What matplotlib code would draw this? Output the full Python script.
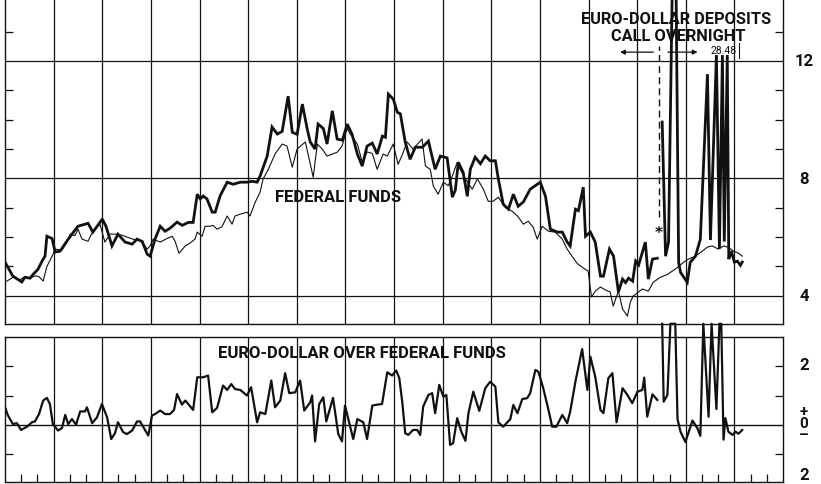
import matplotlib
matplotlib.use("Agg")
import matplotlib.pyplot as plt
import numpy as np

# x values are weeks from the start of the chart (13 weeks per quarter, 16 quarters)

# Euro-dollar deposits, heavy line (before the series break)
euro_weeks = [0, 2.1, 4.5, 5.3, 6.7, 7.5, 8.8, 9.9, 10.7, 11.2,
              12.6, 13.4, 14.7, 16.9, 17.9, 19.5, 21.4, 22.2, 23.5, 26.0,
              27.0, 28.6, 30.2, 32.1, 34.0, 35.3, 36.7, 38.0, 38.8, 40.1,
              41.5, 42.8, 44.1, 46.0, 47.4, 49.0, 50.3, 51.4, 52.2, 53.0,
              54.0, 55.4, 56.2, 57.5, 59.4, 61.0, 62.9, 64.7, 66.1, 67.4,
              68.2, 70.1, 71.4, 72.8, 74.1, 75.7, 76.8, 78.1, 79.5, 80.8,
              81.6, 82.9, 83.7, 85.1, 86.1, 87.5, 88.8, 90.2, 91.5, 92.8,
              94.2, 95.5, 96.8, 98.2, 99.5, 100.9, 101.7, 102.5, 103.8, 104.9,
              105.7, 107.0, 108.3, 109.7, 111.6, 113.2, 115.0, 116.4, 118.2, 119.6,
              120.4, 121.2, 122.5, 123.6, 124.4, 125.7, 127.1, 128.4, 129.7, 131.1,
              131.9, 133.2, 134.6, 135.9, 137.2, 138.6, 140.4, 142.3, 143.1, 144.5,
              145.8, 147.7, 149.0, 150.3, 151.1, 152.5, 153.3, 154.6, 155.2, 156.5,
              157.8, 159.2, 160.0, 161.6, 162.7, 164.0, 165.1, 165.9, 166.7, 167.8,
              168.6, 169.4, 170.4, 171.2, 172.0, 173.1, 174.4]
euro_rates = [5.15, 4.67, 4.47, 4.63, 4.60, 4.73, 4.90, 5.18, 5.35, 6.03,
              5.95, 5.49, 5.52, 5.93, 6.10, 6.37, 6.44, 6.47, 6.17, 6.61,
              6.37, 5.70, 6.10, 5.83, 5.76, 5.93, 5.85, 5.42, 5.35, 5.93,
              6.37, 6.20, 6.30, 6.51, 6.40, 6.50, 6.50, 7.46, 7.30, 7.40,
              7.30, 6.85, 6.85, 7.40, 7.87, 7.80, 7.87, 7.87, 7.90, 7.87,
              8.08, 8.76, 9.75, 9.51, 9.60, 10.80, 9.57, 9.50, 10.53, 9.68,
              9.24, 9.00, 9.85, 9.70, 9.17, 10.30, 9.34, 9.30, 9.85, 9.50,
              8.83, 8.42, 9.10, 9.20, 8.83, 9.44, 9.40, 10.87, 10.70, 10.25,
              10.20, 9.24, 8.65, 9.06, 9.06, 9.27, 8.31, 8.76, 8.70, 7.36,
              7.60, 8.55, 8.20, 7.39, 8.31, 8.72, 8.50, 8.76, 8.60, 8.60,
              7.98, 7.12, 6.95, 7.46, 7.05, 7.20, 7.63, 7.80, 7.87, 7.39,
              6.27, 6.17, 6.17, 5.83, 5.70, 6.95, 6.90, 7.70, 6.03, 6.17,
              5.83, 4.67, 4.67, 5.59, 5.35, 4.13, 4.57, 4.45, 4.60, 4.50,
              5.18, 5.05, 5.49, 5.83, 4.57, 5.25, 5.28]

# Euro-dollar call overnight (after the break)
call_weeks = [175.7, 176.6, 177.4, 178.4, 179.4, 180.1, 180.6, 182.4, 183.2, 184.6,
              185.9, 187.8, 188.6, 190.2, 191.0, 191.8, 192.3, 193.1, 193.5, 194.2,
              195.0, 195.8, 196.6, 197.1]
call_rates = [9.92, 5.35, 5.83, 14.6, 14.6, 5.14, 4.80, 4.46, 5.14, 5.35,
              5.93, 11.55, 5.90, 12.20, 5.60, 12.20, 5.85, 12.20, 5.25, 5.52,
              5.15, 5.18, 5.04, 5.15]

# Federal funds, light line
fed_weeks = [0.5, 2.1, 4.0, 5.3, 6.7, 8.0, 9.1, 10.2, 11.2, 12.6,
             13.4, 15.2, 16.6, 17.4, 18.7, 19.5, 20.6, 22.2, 23.5, 25.4,
             26.7, 28.1, 30.2, 31.6, 34.2, 35.6, 36.6, 38.0, 38.8, 39.6,
             41.5, 43.3, 44.7, 45.5, 46.5, 48.2, 49.5, 50.8, 51.4, 52.7,
             53.5, 54.8, 55.6, 56.7, 58.0, 59.4, 60.7, 61.5, 62.9, 64.7,
             65.5, 66.9, 68.2, 69.0, 70.4, 72.2, 74.1, 75.4, 76.8, 78.1,
             80.3, 82.4, 83.5, 84.8, 86.1, 88.8, 90.1, 91.5, 92.3, 94.2,
             95.5, 96.8, 98.2, 99.5, 101.1, 102.2, 103.8, 105.1, 106.2, 107.5,
             109.1, 111.5, 112.4, 113.7, 114.5, 115.8, 117.2, 118.5, 119.6, 120.9,
             121.7, 123.1, 124.9, 126.3, 127.9, 129.2, 130.5, 131.9, 133.7, 135.6,
             137.0, 138.6, 139.9, 141.2, 142.3, 143.6, 145.3, 147.1, 149.0, 150.3,
             151.6, 153.0, 155.1, 155.9, 156.8, 157.8, 159.2, 160.5, 161.8, 162.6,
             164.0, 165.1, 166.4, 167.2, 168.0, 169.1, 170.4, 172.0, 173.3, 175.2,
             177.1, 178.4, 179.8, 181.4, 182.7, 184.6, 186.4, 187.8, 189.1, 190.7,
             192.1, 193.4, 194.8, 196.1, 197.1]
fed_rates = [4.50, 4.63, 4.55, 4.65, 4.60, 4.68, 4.65, 4.50, 5.00, 5.35,
             5.59, 5.55, 5.83, 6.10, 6.05, 6.27, 5.93, 5.86, 6.20, 6.44,
             5.83, 6.10, 6.10, 6.05, 5.93, 5.90, 5.85, 5.59, 5.70, 5.93,
             5.83, 5.95, 6.03, 5.85, 5.45, 5.70, 5.80, 5.93, 6.17, 6.03,
             6.37, 6.37, 6.40, 6.27, 6.35, 6.72, 6.44, 6.72, 6.78, 6.85,
             6.72, 7.19, 7.53, 7.98, 8.31, 8.83, 9.17, 9.10, 8.38, 9.00,
             9.24, 8.04, 9.17, 9.00, 8.76, 8.89, 9.10, 9.70, 9.51, 9.17,
             8.55, 8.90, 8.85, 8.31, 8.83, 8.76, 9.17, 8.48, 8.80, 9.24,
             9.00, 9.34, 8.42, 8.31, 7.74, 7.46, 7.87, 7.75, 8.08, 8.55,
             8.30, 7.98, 7.63, 7.98, 7.63, 7.22, 7.22, 7.36, 7.02, 6.88,
             6.72, 6.44, 6.54, 6.34, 5.93, 6.37, 6.20, 6.17, 5.93, 5.59,
             5.35, 5.10, 4.90, 4.85, 3.96, 4.16, 4.30, 4.20, 4.13, 3.65,
             4.16, 3.55, 3.31, 3.79, 4.00, 4.10, 4.23, 4.16, 4.46, 4.63,
             4.73, 4.84, 4.97, 5.14, 5.25, 5.35, 5.52, 5.66, 5.70, 5.59,
             5.70, 5.65, 5.52, 5.45, 5.35]

# Euro-dollar over federal funds (spread)
spread_weeks = [0.0, 0.8, 2.1, 3.2, 4.3, 5.9, 7.2, 8.0, 9.1, 10.2,
                11.2, 12.0, 12.8, 14.2, 15.2, 16.1, 16.9, 17.9, 19.0, 20.1,
                21.4, 21.9, 23.3, 24.6, 25.9, 27.3, 28.4, 29.4, 30.2, 31.6,
                32.6, 34.0, 35.3, 36.1, 37.5, 38.3, 39.3, 40.1, 41.5, 42.8,
                44.1, 45.2, 46.0, 47.3, 48.2, 49.0, 50.3, 51.4, 53.0, 54.3,
                55.4, 56.7, 58.3, 59.4, 60.5, 61.5, 62.9, 64.7, 65.8, 67.4,
                68.2, 69.6, 71.2, 72.2, 73.6, 74.9, 76.0, 77.6, 78.9, 80.0,
                81.6, 82.1, 82.9, 84.0, 85.1, 85.9, 87.7, 89.1, 90.1, 90.9,
                93.1, 94.2, 95.8, 96.8, 98.2, 99.5, 100.8, 102.2, 103.5, 104.6,
                105.4, 106.2, 107.0, 107.8, 109.1, 110.2, 111.0, 111.8, 113.2, 114.2,
                115.0, 116.1, 117.2, 118.0, 119.0, 119.8, 120.9, 122.0, 123.1, 123.9,
                125.2, 126.8, 128.4, 129.7, 131.1, 131.9, 133.2, 134.3, 135.1, 135.9,
                137.0, 138.3, 139.6, 140.4, 141.8, 142.6, 143.9, 145.3, 146.3, 147.4,
                149.0, 150.3, 151.1, 152.5, 154.3, 155.7, 156.5, 157.8, 159.2, 160.0,
                161.3, 162.4, 163.5, 165.1, 166.4, 167.7, 169.1, 170.4, 170.9, 171.7,
                173.1, 174.4]
spread_values = [0.60, 0.32, 0.03, 0.06, -0.17, -0.06, 0.09, 0.12, 0.37, 0.83,
                 0.92, 0.71, 0.03, -0.19, -0.11, 0.34, 0.03, 0.20, 0.01, 0.46,
                 0.46, 0.60, 0.06, 0.26, 0.71, 0.26, -0.48, -0.28, 0.09, -0.25,
                 -0.31, -0.19, 0.12, 0.12, -0.19, -0.36, 0.32, 0.37, 0.49, 0.37,
                 0.37, 0.51, 1.05, 0.69, 0.83, 0.71, 0.51, 1.62, 1.62, 1.68,
                 0.43, 0.58, 1.34, 1.19, 1.39, 1.22, 1.19, 1.00, 1.28, 0.09,
                 0.43, 0.37, 1.51, 0.60, 0.83, 1.76, 1.08, 1.11, 1.51, 0.49,
                 0.77, 1.00, -0.56, 0.71, 0.94, 0.12, 0.92, -0.31, -0.56, 0.66,
                 -0.48, 0.20, 0.09, -0.48, 0.66, 0.69, 0.71, 1.79, 1.68, 1.85,
                 1.60, 0.79, -0.28, -0.34, -0.17, -0.17, -0.34, 0.62, 1.02, 1.08,
                 0.40, 1.36, 0.96, 1.02, -0.68, -0.62, 0.23, -0.23, -0.54, 0.40,
                 1.13, 0.48, 1.25, 1.47, 1.30, 0.09, -0.06, 0.09, 0.20, 0.68,
                 0.40, 0.88, 0.91, 1.08, 1.87, 1.81, 1.25, 0.51, -0.06, -0.06,
                 0.34, 0.06, 0.45, 1.47, 2.58, 1.19, 2.32, 1.64, 0.51, 0.40,
                 1.59, 1.76, 0.09, 1.25, 1.02, 0.74, 1.13, 1.19, 1.61, 0.28,
                 1.04, 0.85]

# spread using call overnight rate (spikes run off the panel)
spread_call_weeks = [175.7, 176.1, 177.1, 177.9, 179.2, 179.8, 180.6, 181.9, 183.8, 185.1,
                     185.9, 186.7, 188.1, 188.9, 190.2, 191.0, 191.5, 192.1, 192.6, 193.4,
                     194.5, 195.3, 196.1, 197.1]
spread_call_values = [3.44, 0.79, 1.02, 3.44, 3.44, 0.20, -0.23, -0.58, 0.15, -0.11,
                      -0.37, 3.44, 0.28, 3.44, 0.54, 3.44, 3.44, -0.50, 0.23, -0.23,
                      -0.34, -0.23, -0.30, -0.17]

break_week = 174.9
peak_label = "28.48"

ink = "#111111"
label_font = ["Roboto", "DejaVu Sans"]

fig = plt.figure(figsize=(8.21, 4.85), dpi=100)
ax_top = fig.add_axes([5 / 821, 160 / 485, 778 / 821, 325 / 485])
ax_bot = fig.add_axes([5 / 821, 2 / 485, 778 / 821, 145 / 485])

quarters = np.arange(13, 208, 13)
months = [m for m in np.arange(0, 208.1, 13 / 3) if round(m / (13 / 3)) % 3 != 0]

for ax in (ax_top, ax_bot):
    ax.set_xlim(0, 208)
    for q in quarters:
        ax.axvline(q, color=ink, lw=0.9, zorder=1)
    for s in ax.spines.values():
        s.set_color(ink)
        s.set_linewidth(1.0)
    ax.set_xticks([])
    ax.tick_params(axis="y", direction="in", length=6, width=0.9, color=ink,
                   left=True, right=True, labelleft=False, labelright=False)

# top panel
ax_top.set_ylim(3.04, 14.11)
ax_top.spines["top"].set_visible(False)
ax_top.set_yticks([5, 6, 7, 9, 10, 11, 13])
for lvl in (4, 8, 12):
    ax_top.axhline(lvl, color=ink, lw=0.9, zorder=1)

ax_top.plot(fed_weeks, fed_rates, color=ink, lw=0.8, zorder=3)
ax_top.plot(euro_weeks, euro_rates, color=ink, lw=2.0, zorder=4, solid_joinstyle="miter")
ax_top.plot(call_weeks, call_rates, color=ink, lw=2.0, zorder=4, solid_joinstyle="miter")
ax_top.plot([break_week, break_week], [6.7, 12.5], color=ink, lw=1.0, ls=(0, (5, 3)), zorder=3)
ax_top.text(break_week - 0.2, 6.15, "*", ha="center", va="center", fontsize=11,
            fontweight="bold", color=ink)

ax_top.annotate("", xy=(163.7, 12.3), xytext=(174.1, 12.3),
                arrowprops=dict(arrowstyle="-|>", color=ink, lw=0.9, mutation_scale=7))
ax_top.annotate("", xy=(185.9, 12.3), xytext=(176.5, 12.3),
                arrowprops=dict(arrowstyle="-|>", color=ink, lw=0.9, mutation_scale=7))
ax_top.text(192.2, 12.38, peak_label, ha="center", va="center", fontsize=7.5,
            family=label_font, color=ink)
ax_top.plot([196.2, 196.2], [12.1, 12.6], color=ink, lw=0.8)

ax_top.text(179.3, 13.44, "EURO-DOLLAR DEPOSITS", ha="center", va="center",
            fontsize=11.8, fontweight="bold", family=label_font, color=ink)
ax_top.text(179.9, 12.85, "CALL OVERNIGHT", ha="center", va="center",
            fontsize=11.8, fontweight="bold", family=label_font, color=ink)
ax_top.text(89.1, 7.39, "FEDERAL FUNDS", ha="center", va="center",
            fontsize=12, fontweight="bold", family=label_font, color=ink)

for lvl in (4, 8, 12):
    ax_top.text(1.027, lvl, str(lvl), transform=ax_top.get_yaxis_transform(),
                ha="center", va="center", fontsize=12, fontweight="bold",
                family=label_font, color=ink)

# bottom panel
ax_bot.set_ylim(-1.94, 2.99)
ax_bot.set_yticks([-1, 1, 2])
ax_bot.axhline(0, color=ink, lw=1.0, zorder=1)
ax_bot.set_xticks(months, minor=True)
ax_bot.tick_params(axis="x", which="minor", direction="in", length=6, width=0.9,
                   color=ink, bottom=True, top=False)

ax_bot.plot(spread_weeks, spread_values, color=ink, lw=1.6, zorder=4)
ax_bot.plot(spread_call_weeks, spread_call_values, color=ink, lw=1.6, zorder=4, clip_on=False)

ax_bot.text(95.5, 2.47, "EURO-DOLLAR OVER FEDERAL FUNDS", ha="center", va="center",
            fontsize=12, fontweight="bold", family=label_font, color=ink)

tr = ax_bot.get_yaxis_transform()
ax_bot.text(1.027, 2.04, "2", transform=tr, ha="center", va="center", fontsize=12,
            fontweight="bold", family=label_font, color=ink, clip_on=False)
ax_bot.text(1.027, 0.08, "+\n0\n\u2013", transform=tr, ha="center", va="center",
            fontsize=11, fontweight="bold", family=label_font, color=ink,
            linespacing=0.78, clip_on=False)
ax_bot.text(1.027, -1.67, "2", transform=tr, ha="center", va="center", fontsize=12,
            fontweight="bold", family=label_font, color=ink, clip_on=False)

fig.savefig("out.png", dpi=100, facecolor="white")
